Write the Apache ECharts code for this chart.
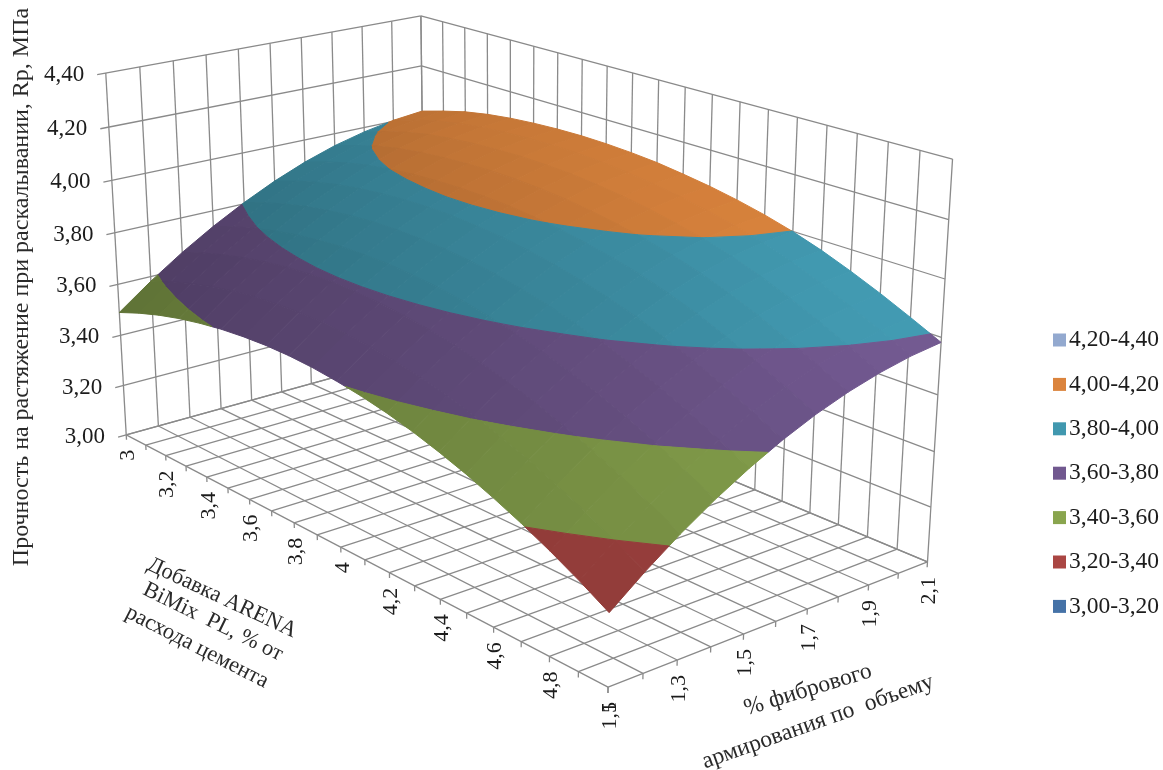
<!DOCTYPE html>
<html>
<head>
<meta charset="utf-8">
<style>html,body{margin:0;padding:0;background:#fff}#chart{width:1163px;height:770px}</style>
<script src="https://cdn.jsdelivr.net/npm/echarts@6/dist/echarts.min.js"></script>
</head>
<body>
<div id="chart"></div>
<script>
// Fibre content, % by volume
const fibreValues = [1.1, 1.2, 1.3, 1.4, 1.5, 1.6, 1.7, 1.8, 1.9, 2.0, 2.1];
// ARENA BiMix PL additive, % of cement mass
const additiveValues = [3, 3.1, 3.2, 3.3, 3.4, 3.5, 3.6, 3.7, 3.8, 3.9, 4, 4.1, 4.2, 4.3, 4.4, 4.5, 4.6, 4.7, 4.8, 4.9, 5];
const strengthTicks = [3.0, 3.2, 3.4, 3.6, 3.8, 4.0, 4.2, 4.4];

// Splitting tensile strength, MPa: one row per fibre content, one column per additive dose
const rowF11 = [3.490,3.523,3.551,3.574,3.592,3.606,3.615,3.620,3.620,3.615,3.605,3.591,3.572,3.548,3.519,3.486,3.448,3.406,3.359,3.307,3.250];
const rowF12 = [3.582,3.614,3.641,3.664,3.682,3.695,3.704,3.708,3.708,3.703,3.693,3.679,3.660,3.636,3.608,3.575,3.538,3.496,3.450,3.398,3.343];
const rowF13 = [3.665,3.696,3.722,3.744,3.762,3.775,3.784,3.788,3.787,3.782,3.772,3.758,3.739,3.716,3.688,3.656,3.619,3.578,3.532,3.481,3.427];
const rowF14 = [3.739,3.769,3.795,3.817,3.834,3.846,3.855,3.858,3.858,3.852,3.843,3.829,3.810,3.787,3.760,3.728,3.692,3.651,3.606,3.556,3.502];
const rowF15 = [3.805,3.835,3.861,3.882,3.898,3.910,3.918,3.921,3.920,3.915,3.906,3.892,3.874,3.852,3.824,3.794,3.757,3.717,3.671,3.621,3.568];
const rowF16 = [3.863,3.893,3.918,3.939,3.954,3.965,3.972,3.976,3.975,3.969,3.961,3.947,3.930,3.908,3.882,3.852,3.816,3.775,3.729,3.679,3.626];
const rowF17 = [3.912,3.942,3.967,3.987,4.001,4.011,4.017,4.020,4.019,4.015,4.006,3.993,3.976,3.956,3.932,3.901,3.866,3.824,3.778,3.728,3.675];
const rowF18 = [3.952,3.981,4.007,4.026,4.039,4.048,4.054,4.057,4.056,4.051,4.043,4.030,4.014,3.994,3.970,3.941,3.905,3.864,3.817,3.768,3.715];
const rowF19 = [3.982,4.011,4.036,4.055,4.067,4.076,4.081,4.084,4.082,4.078,4.069,4.057,4.041,4.021,3.998,3.969,3.934,3.893,3.847,3.798,3.746];
const rowF20 = [4.004,4.032,4.056,4.074,4.086,4.095,4.100,4.102,4.101,4.096,4.087,4.075,4.059,4.040,4.017,3.988,3.954,3.914,3.868,3.820,3.769];
const rowF21 = [4.017,4.044,4.068,4.085,4.097,4.105,4.110,4.112,4.110,4.105,4.097,4.084,4.069,4.050,4.027,3.999,3.965,3.925,3.881,3.833,3.783];
const strengthRows = [rowF11, rowF12, rowF13, rowF14, rowF15, rowF16, rowF17, rowF18, rowF19, rowF20, rowF21];

// Value bands, listed as in the legend
const bandNames = ['4,20-4,40', '4,00-4,20', '3,80-4,00', '3,60-3,80', '3,40-3,60', '3,20-3,40', '3,00-3,20'];
const bandLows  = [4.2, 4.0, 3.8, 3.6, 3.4, 3.2, 3.0];
const bandHighs = [4.4, 4.2, 4.0, 3.8, 3.6, 3.4, 3.2];
const bandColors = ['#93A9CF', '#DB843D', '#4198AF', '#71588F', '#89A54E', '#AA4643', '#4572A7'];

// Tick captions
const strengthLabels = ['3,00', '3,20', '3,40', '3,60', '3,80', '4,00', '4,20', '4,40'];
const additiveLabelValues = [3, 3.2, 3.4, 3.6, 3.8, 4, 4.2, 4.4, 4.6, 4.8, 5];
const additiveLabels = ['3', '3,2', '3,4', '3,6', '3,8', '4', '4,2', '4,4', '4,6', '4,8', '5'];
const fibreLabelValues = [1.1, 1.3, 1.5, 1.7, 1.9, 2.1];
const fibreLabels = ['1,1', '1,3', '1,5', '1,7', '1,9', '2,1'];

// Screen placement of the box: [u, v, w] of a cube corner and the pixel it lands on
const boxCorners = [
  [0, 0, 0, 127, 435], [0, 1, 0, 608, 687], [1, 1, 0, 928, 562], [1, 0, 0, 424, 352],
  [0, 0, 1, 105, 73],  [1, 0, 1, 422, 16],  [1, 1, 1, 952, 159]
];

const FONT = '"Liberation Serif", "Times New Roman", serif';
const TEXT = '#1c1c1c';
const FIBRE_MIN = 1.1, FIBRE_MAX = 2.1, ADD_MIN = 3, ADD_MAX = 5, Z_MIN = 3, Z_MAX = 4.4;

// Least-squares fit of the 3x4 perspective matrix through the box corners
function fitCamera(points) {
  const n = 11, A = [], b = [];
  points.forEach(([X, Y, Z, x, y]) => {
    A.push([X, Y, Z, 1, 0, 0, 0, 0, -x * X, -x * Y, -x * Z]); b.push(x);
    A.push([0, 0, 0, 0, X, Y, Z, 1, -y * X, -y * Y, -y * Z]); b.push(y);
  });
  const M = [];
  for (let i = 0; i < n; i++) {
    M.push(new Array(n + 1).fill(0));
    for (let j = 0; j < n; j++) A.forEach(r => { M[i][j] += r[i] * r[j]; });
    A.forEach((r, k) => { M[i][n] += r[i] * b[k]; });
  }
  for (let c = 0; c < n; c++) {
    let piv = c;
    for (let r = c + 1; r < n; r++) if (Math.abs(M[r][c]) > Math.abs(M[piv][c])) piv = r;
    [M[c], M[piv]] = [M[piv], M[c]];
    for (let r = 0; r < n; r++) {
      if (r === c) continue;
      const f = M[r][c] / M[c][c];
      for (let k = c; k <= n; k++) M[r][k] -= f * M[c][k];
    }
  }
  return M.map((r, i) => r[n] / r[i]);
}
const cam = fitCamera(boxCorners);

const chart = echarts.init(document.getElementById('chart'), null, { renderer: 'canvas' });

// Hidden value axes give each data triple its position in the unit box
function toScreen(api, fibre, additive, strength) {
  const W = api.getWidth(), H = api.getHeight();
  const p = api.coord([fibre, additive]);
  const u = p[0] / W, v = 1 - p[1] / H;
  const w = 1 - chart.convertToPixel({ yAxisIndex: 1 }, strength) / H;
  const d = cam[8] * u + cam[9] * v + cam[10] * w + 1;
  return [(cam[0] * u + cam[1] * v + cam[2] * w + cam[3]) / d,
          (cam[4] * u + cam[5] * v + cam[6] * w + cam[7]) / d];
}

// Clip a polygon of [fibre, additive, strength] vertices to one side of a strength level
function clipLevel(poly, level, keepAbove) {
  const out = [];
  for (let i = 0; i < poly.length; i++) {
    const a = poly[i], b = poly[(i + 1) % poly.length];
    const ina = keepAbove ? a[2] >= level : a[2] <= level;
    const inb = keepAbove ? b[2] >= level : b[2] <= level;
    if (ina) out.push(a);
    if (ina !== inb) {
      const t = (level - a[2]) / (b[2] - a[2]);
      out.push([a[0] + t * (b[0] - a[0]), a[1] + t * (b[1] - a[1]), level]);
    }
  }
  return out;
}

function shadeColor(hex, f) {
  const n = parseInt(hex.slice(1), 16);
  const c = s => Math.min(255, Math.round(((n >> s) & 255) * f));
  return 'rgb(' + c(16) + ',' + c(8) + ',' + c(0) + ')';
}

// Slope of the surface around a cell in unit-box terms, read over its neighbours too
function cellSlopes(i, j) {
  const last = fibreValues.length - 1, lastJ = additiveValues.length - 1, span = Z_MAX - Z_MIN;
  const i0 = Math.max(i - 1, 0), i1 = Math.min(i + 2, last);
  const j0 = Math.max(j - 1, 0), j1 = Math.min(j + 2, lastJ);
  const su = ((strengthRows[i1][j] + strengthRows[i1][j + 1] - strengthRows[i0][j] - strengthRows[i0][j + 1]) / 2)
    / ((i1 - i0) / last) / span;
  const sv = ((strengthRows[i][j1] + strengthRows[i + 1][j1] - strengthRows[i][j0] - strengthRows[i + 1][j0]) / 2)
    / ((j1 - j0) / lastJ) / span;
  return [su, sv];
}

// One record per mesh cell: corners, strengths, paint order and slopes
const meshCells = [];
for (let i = 0; i < fibreValues.length - 1; i++) {
  for (let j = 0; j < additiveValues.length - 1; j++) {
    const sl = cellSlopes(i, j);
    meshCells.push([fibreValues[i], fibreValues[i + 1], additiveValues[j], additiveValues[j + 1],
      strengthRows[i][j], strengthRows[i][j + 1], strengthRows[i + 1][j + 1], strengthRows[i + 1][j],
      (fibreValues.length - 2 - i) * 100 + j, sl[0], sl[1]]);
  }
}

function bandSeries(idx) {
  const low = bandLows[idx], high = bandHighs[idx];
  const data = meshCells.filter(c => {
    const zs = c.slice(4, 8);
    return Math.max(...zs) > low && Math.min(...zs) < high;
  });
  return {
    name: bandNames[idx], type: 'custom', coordinateSystem: 'cartesian2d', silent: true,
    xAxisIndex: 0, yAxisIndex: 0, z: 3, itemStyle: { color: bandColors[idx] },
    encode: { x: 0, y: 2 }, data: data,
    renderItem: (params, api) => {
      const f0 = api.value(0), f1 = api.value(1), a0 = api.value(2), a1 = api.value(3);
      let poly = [[f0, a0, api.value(4)], [f0, a1, api.value(5)], [f1, a1, api.value(6)], [f1, a0, api.value(7)]];
      poly = clipLevel(clipLevel(poly, low, true), high, false);
      if (poly.length < 3) return null;
      // Facet brightness follows the local slope
      const fill = shadeColor(bandColors[idx], 0.96 - 0.32 * api.value(9) - 0.14 * api.value(10));
      return {
        type: 'polygon', z2: api.value(8),
        shape: { points: poly.map(q => toScreen(api, q[0], q[1], q[2])) },
        style: { fill: fill, stroke: fill, lineWidth: 1 }
      };
    }
  };
}

// Walls and floor: each record is the two ends of one grid line
const frameLines = [];
const pushLine = (a, b, c, d, e, f) => frameLines.push([a, d, b, e, c, f]);
strengthTicks.forEach(z => {
  pushLine(FIBRE_MIN - 0.025, ADD_MIN, z, FIBRE_MAX, ADD_MIN, z);
  pushLine(FIBRE_MAX, ADD_MIN, z, FIBRE_MAX, ADD_MAX, z);
});
fibreValues.forEach(f => {
  pushLine(f, ADD_MIN, Z_MIN, f, ADD_MIN, Z_MAX);
  pushLine(f, ADD_MIN, Z_MIN, f, ADD_MAX, Z_MIN);
  pushLine(f, ADD_MAX, Z_MIN, f, ADD_MAX, Z_MIN - 0.02);
});
additiveValues.forEach(a => {
  pushLine(FIBRE_MAX, a, Z_MIN, FIBRE_MAX, a, Z_MAX);
  pushLine(FIBRE_MIN, a, Z_MIN, FIBRE_MAX, a, Z_MIN);
  pushLine(FIBRE_MIN, a, Z_MIN, FIBRE_MIN, a, Z_MIN - 0.02);
});

const frameSeries = {
  name: 'frame', type: 'custom', coordinateSystem: 'cartesian2d', silent: true, z: 1,
  encode: { x: 0, y: 2 }, data: frameLines,
  renderItem: (params, api) => {
    const s = toScreen(api, api.value(0), api.value(2), api.value(4));
    const e = toScreen(api, api.value(1), api.value(3), api.value(5));
    return { type: 'line', shape: { x1: s[0], y1: s[1], x2: e[0], y2: e[1] },
             style: { stroke: '#8a8a8a', lineWidth: 1.3 } };
  }
};

// Tick captions, anchored on their tick through the same projection
const captionRecords = [];
strengthTicks.forEach((z, i) => captionRecords.push({ value: [FIBRE_MIN - 0.025, ADD_MIN, z], text: strengthLabels[i], kind: 0 }));
additiveLabelValues.forEach((a, i) => captionRecords.push({ value: [FIBRE_MIN, a, Z_MIN], text: additiveLabels[i], kind: 1 }));
fibreLabelValues.forEach((f, i) => captionRecords.push({ value: [f, ADD_MAX, Z_MIN], text: fibreLabels[i], kind: 1 }));

const captionSeries = {
  name: 'captions', type: 'custom', coordinateSystem: 'cartesian2d', silent: true, z: 4,
  encode: { x: 0, y: 1 }, data: captionRecords,
  renderItem: (params, api) => {
    const rec = captionRecords[params.dataIndex];
    const p = toScreen(api, api.value(0), api.value(1), api.value(2));
    if (rec.kind === 0) {
      return { type: 'text', x: p[0] - 13, y: p[1],
               style: { text: rec.text, fontFamily: FONT, fontSize: 23, fill: TEXT, align: 'right', verticalAlign: 'middle' } };
    }
    return { type: 'text', x: p[0] + 2, y: p[1] + 15, rotation: Math.PI / 2,
             style: { text: rec.text, fontFamily: FONT, fontSize: 22, fill: TEXT, align: 'right', verticalAlign: 'middle' } };
  }
};

const titleText = (text, x, y, deg, size) => ({
  type: 'text', x: x, y: y, rotation: deg * Math.PI / 180, silent: true,
  style: { text: text, fontFamily: FONT, fontSize: size, fill: '#2a2a2a', align: 'center', verticalAlign: 'middle' }
});

chart.setOption({
  backgroundColor: '#ffffff',
  animation: false,
  grid: { left: 0, top: 0, right: 0, bottom: 0, containLabel: false },
  xAxis: [{ type: 'value', show: false, min: FIBRE_MIN, max: FIBRE_MAX }],
  yAxis: [
    { type: 'value', show: false, min: ADD_MIN, max: ADD_MAX },
    { type: 'value', show: false, min: Z_MIN, max: Z_MAX }
  ],
  legend: {
    orient: 'vertical', left: 1053, top: 328, padding: 0, icon: 'rect', selectedMode: false,
    itemWidth: 13, itemHeight: 13, itemGap: 20.4, data: bandNames,
    textStyle: { fontFamily: FONT, fontSize: 23.5, color: TEXT, lineHeight: 20, padding: [0, 0, 0, -2] }
  },
  series: [frameSeries].concat(bandNames.map((_, i) => bandSeries(i)), [captionSeries]),
  graphic: [
    titleText('Прочность на растяжение при раскалывании, Rp, МПа', 22, 287, 90, 24),
    titleText('Добавка ARENA', 222, 598, -25, 22.5),
    titleText('BiMix  PL, % от', 213, 622, -26, 22.5),
    titleText('расхода цемента', 197, 647, -27, 22.5),
    titleText('% фибрового', 808, 690, 17, 23.5),
    titleText('армирования по  объему', 818, 722, 19.5, 23.5)
  ]
});
</script>
</body>
</html>
